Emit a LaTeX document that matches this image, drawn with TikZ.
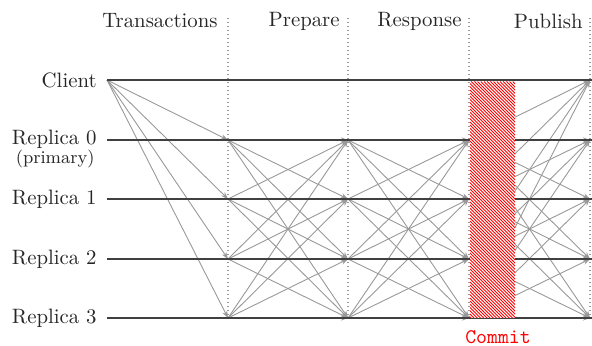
\documentclass[tikz,border=0pt]{standalone}
\usetikzlibrary{arrows.meta}
\begin{document}
\begin{tikzpicture}[x=0.5pt,y=-0.5pt,
  lbl/.style={text=black!85, inner sep=0pt, anchor=east, font=\fontsize{10.4pt}{12pt}\selectfont},
  tline/.style={line width=0.9pt, black!75},
  msg/.style={black!40, line width=0.45pt, -{Stealth[length=3.6pt,width=2.6pt]}},
  phase/.style={black!40, line width=0.7pt, dash pattern=on 0.7pt off 1.3pt},
  hatch/.style={red, line width=0.45pt}]
\useasboundingbox (0,0) rectangle (592,345);
% timeline points
\foreach \n/\y in {C/80, R0/140, R1/199, R2/259, R3/318}{
  \coordinate (\n-0) at (107,\y);
  \coordinate (\n-1) at (228,\y);
  \coordinate (\n-2) at (348,\y);
  \coordinate (\n-3) at (469,\y);
  \coordinate (\n-4) at (590,\y);
  \coordinate (\n-5) at (592,\y);
}
% phase separators
\foreach \k/\x in {1/228,2/348,3/469,4/590}{
  \coordinate (top\k) at (\x,18);
  \coordinate (bot\k) at (\x,320);
  \draw[phase] (top\k) -- (bot\k);
}
% headers
\node[lbl] (hT) at (218,21) {Transactions};
\node[lbl] (hP) at (340,21) {Prepare};
\node[lbl] (hR) at (462,21) {Response};
\node[lbl] (hU) at (583,21) {Publish};
% messages
\foreach \r in {R0,R1,R2,R3}{ \draw[msg] (C-0) -- (\r-1); }
\foreach \a in {R0,R1,R2,R3}{
  \foreach \b in {R0,R1,R2,R3}{
    \draw[msg] (\a-1) -- (\b-2);
    \draw[msg] (\a-2) -- (\b-3);
  }
  \foreach \b in {C,R0,R1,R2,R3}{
    \draw[msg] (\a-3) -- (\b-4);
  }
}
% timelines
\foreach \n in {C,R0,R1,R2,R3}{ \draw[tline] (\n-0) -- (\n-5); }
% commit box
\coordinate (bx1) at (470,81.5);
\coordinate (bx2) at (515,317.5);
\fill[white] (bx1) rectangle (bx2);
\begin{scope}
  \clip (bx1) rectangle (bx2);
  \foreach \i in {0,...,92}{
    \draw[hatch] ({228+\i*3.2},81.5) -- ++(240,240);
  }
\end{scope}
\node[text=red, font=\ttfamily\fontsize{10.4pt}{12pt}\selectfont] (commit) at (498,337) {Commit};
% row labels
\node[lbl] (lC) at (97,80) {Client};
\node[lbl] (l0) at (97,139) {Replica 0};
\node[lbl, font=\small] (lp) at (95,159) {(primary)};
\node[lbl] (l1) at (97,199) {Replica 1};
\node[lbl] (l2) at (97,259) {Replica 2};
\node[lbl] (l3) at (97,318) {Replica 3};
\end{tikzpicture}
\end{document}
